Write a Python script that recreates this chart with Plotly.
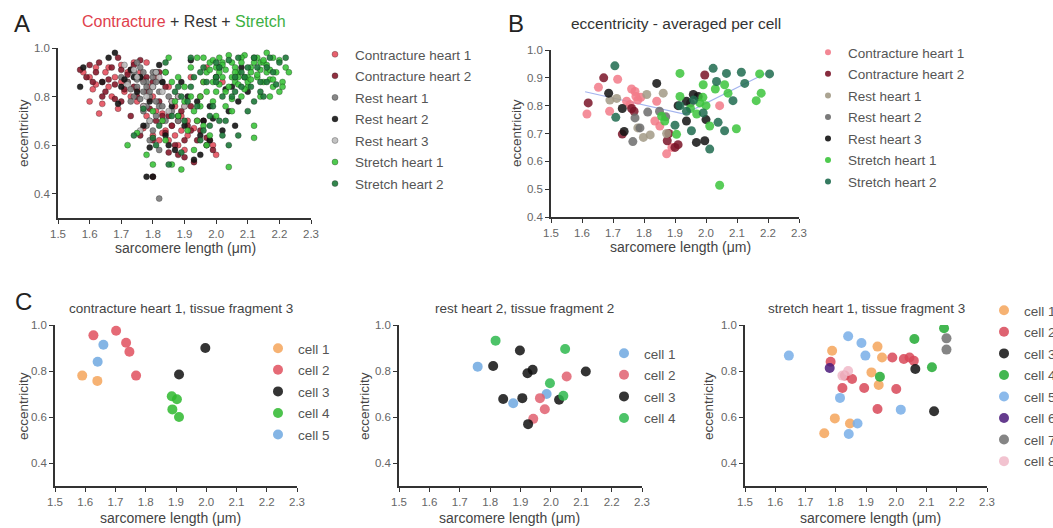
import plotly.graph_objects as go

W, H = 1053, 528
FONT = "Arial, Liberation Sans, sans-serif"

# ---------------- Panel A data (all measurements) ----------------
a_con1_x = [1.58,1.60,1.62,1.63,1.64,1.65,1.66,1.68,1.70,1.71,1.72,1.73,1.74,1.75,1.76,1.77,1.78,1.79,1.80,1.81,1.82,1.83,1.84,1.85,1.86,1.87,1.88,1.89,1.90,1.91,1.92,1.94,1.96,1.98,2.00,1.61,1.67,1.69,1.73,1.77,1.79,1.81,1.83,1.86,1.88,1.90,1.93,1.97,2.02,1.64,
            1.60,1.62,1.66,1.70,1.72,1.75,1.78,1.80,1.83,1.85,1.87,1.89,1.91,1.95,1.99]
a_con1_y = [0.90,0.78,0.92,0.73,0.77,0.90,0.84,0.88,0.93,0.82,0.86,0.80,0.94,0.78,0.90,0.87,0.72,0.84,0.64,0.88,0.62,0.70,0.66,0.84,0.68,0.76,0.60,0.72,0.76,0.64,0.88,0.70,0.86,0.62,0.56,0.83,0.80,0.75,0.91,0.67,0.79,0.74,0.65,0.78,0.70,0.58,0.67,0.92,0.86,0.86,
            0.88,0.85,0.92,0.86,0.90,0.83,0.94,0.80,0.73,0.62,0.64,0.66,0.70,0.80,0.60]
a_con2_x = [1.57,1.59,1.61,1.63,1.65,1.67,1.69,1.70,1.72,1.74,1.75,1.77,1.78,1.80,1.81,1.82,1.84,1.85,1.87,1.88,1.90,1.92,1.93,1.95,1.97,1.99,1.62,1.66,1.71,1.76,1.79,1.83,1.86,1.89,1.91,1.94,1.80,1.85,1.73,1.68,
            1.60,1.64,1.68,1.70,1.74,1.78,1.82,1.84,1.86,1.90,1.92,1.96,1.76,1.80,1.88]
a_con2_y = [0.91,0.88,0.86,0.94,0.82,0.92,0.96,0.78,0.89,0.84,0.80,0.76,0.82,0.86,0.70,0.78,0.65,0.72,0.60,0.80,0.55,0.76,0.53,0.66,0.63,0.58,0.90,0.87,0.83,0.95,0.75,0.72,0.68,0.74,0.68,0.62,0.47,0.57,0.72,0.79,
            0.93,0.80,0.85,0.91,0.93,0.88,0.90,0.84,0.78,0.62,0.66,0.70,0.64,0.62,0.56]
a_rest1_x = [1.72,1.74,1.75,1.76,1.77,1.78,1.79,1.80,1.81,1.82,1.76,1.78,1.80,1.74,1.77,1.79,1.83,1.85,1.73,1.81,1.84,1.78,1.75,1.82,1.80,1.86,1.70,1.88,1.77,1.79,1.82,1.82,
             1.73,1.75,1.77,1.79,1.81,1.83,1.76,1.78,1.80,1.84]
a_rest1_y = [0.86,0.90,0.84,0.88,0.82,0.86,0.80,0.84,0.78,0.82,0.92,0.76,0.88,0.80,0.74,0.70,0.86,0.80,0.78,0.72,0.90,0.68,0.94,0.76,0.66,0.74,0.88,0.70,0.86,0.62,0.58,0.38,
             0.83,0.87,0.90,0.82,0.86,0.76,0.79,0.84,0.90,0.70]
a_rest2_x = [1.57,1.58,1.64,1.68,1.69,1.73,1.75,1.77,1.79,1.80,1.82,1.84,1.86,1.88,1.90,1.92,1.94,1.96,1.98,2.00,2.02,2.04,2.06,2.08,1.83,1.87,1.91,1.95,1.99,2.03,1.78,1.79,1.76,1.93,1.98,2.05,1.71,1.85,
             1.66,1.70,1.74,1.81,1.89,1.97,2.01,2.07,2.10,1.95]
a_rest2_y = [0.84,0.92,0.86,0.98,0.77,0.91,0.82,0.68,0.59,0.47,0.93,0.64,0.76,0.72,0.68,0.95,0.78,0.70,0.62,0.88,0.66,0.74,0.68,0.92,0.86,0.58,0.80,0.64,0.71,0.83,0.47,0.78,0.88,0.54,0.76,0.84,0.87,0.60,
             0.96,0.84,0.88,0.90,0.86,0.60,0.92,0.78,0.82,0.56]
a_rest3_x = [1.72,1.75,1.78,1.80,1.83,1.86,1.74,1.77,1.82,1.79,1.85,1.88,1.76,1.81,1.90,1.71]
a_rest3_y = [0.85,0.88,0.80,0.84,0.82,0.78,0.91,0.76,0.88,0.70,0.74,0.80,0.66,0.90,0.76,0.93]
a_str1_x = [1.72,1.75,1.78,1.80,1.83,1.85,1.86,1.88,1.89,1.90,1.92,1.93,1.94,1.95,1.96,1.97,1.98,1.99,2.00,2.01,2.02,2.03,2.04,2.05,2.06,2.07,2.08,2.09,2.10,2.11,2.12,2.13,2.14,2.15,2.16,2.17,2.18,2.19,2.20,2.22,2.23,1.84,1.87,1.91,1.94,1.97,2.00,2.03,2.06,2.09,2.12,2.15,2.18,2.21,1.96,1.99,2.02,2.05,2.08,2.11,2.14,2.04,2.07,1.93,1.98,2.01,2.10,2.13,2.16,1.88,1.95,2.00,2.05,2.12,2.17,
            1.96,1.98,2.00,2.02,2.04,2.06,2.08,2.10,2.12,2.14,2.16,2.18,2.20,1.97,2.01,2.05,2.09,2.13,2.17,2.21,1.99,2.03,2.07,2.11,2.15,1.92,1.90,1.86,1.84,1.80]
a_str1_y = [0.60,0.65,0.56,0.52,0.70,0.96,0.52,0.88,0.50,0.84,0.92,0.74,0.96,0.80,0.68,0.90,0.94,0.86,0.72,0.96,0.88,0.82,0.51,0.94,0.86,0.90,0.80,0.97,0.84,0.92,0.63,0.88,0.94,0.86,0.98,0.80,0.96,0.90,0.82,0.92,0.90,0.62,0.78,0.66,0.70,0.60,0.82,0.76,0.92,0.88,0.68,0.94,0.84,0.86,0.86,0.78,0.94,0.74,0.96,0.90,0.80,0.84,0.88,0.58,0.64,0.90,0.86,0.96,0.90,0.72,0.76,0.92,0.88,0.94,0.87,
            0.96,0.91,0.88,0.93,0.97,0.90,0.94,0.88,0.96,0.91,0.93,0.87,0.95,0.82,0.85,0.79,0.83,0.89,0.91,0.84,0.95,0.91,0.85,0.87,0.95,0.80,0.78,0.86,0.90,0.74]
a_str2_x = [1.74,1.77,1.81,1.84,1.87,1.90,1.92,1.95,1.97,1.99,2.01,2.03,2.05,2.07,2.09,2.11,2.13,2.15,2.17,2.20,1.86,1.89,1.93,1.96,2.00,2.04,2.08,2.12,2.16,1.91,1.98,2.02,2.06,2.10,1.82,1.88,1.94,2.00,2.14,2.19,
            1.96,2.00,2.04,2.08,2.12,2.16,2.02,2.06,2.10,1.92,1.95,1.98,2.14,2.18,2.22,1.80,1.85,1.89,2.07,2.01]
a_str2_y = [0.64,0.75,0.60,0.94,0.82,0.70,0.96,0.62,0.86,0.76,0.92,0.70,0.80,0.96,0.88,0.84,0.92,0.80,0.96,0.94,0.72,0.57,0.88,0.66,0.94,0.60,0.90,0.78,0.86,0.78,0.72,0.64,0.82,0.92,0.68,0.84,0.76,0.88,0.82,0.85,
            0.92,0.86,0.95,0.84,0.96,0.92,0.80,0.88,0.74,0.84,0.90,0.68,0.86,0.90,0.96,0.63,0.52,0.80,0.64,0.70]

series_names = ["Contracture heart 1", "Contracture heart 2", "Rest heart 1", "Rest heart 2",
                "Rest heart 3", "Stretch heart 1", "Stretch heart 2"]

# ---------------- Panel B data (averaged per cell) ----------------
b_con1_x = [1.616,1.653,1.715,1.689,1.744,1.755,1.771,1.774,1.841,1.835,1.851,1.873,1.89,1.79,1.76,1.78,2.044]
b_con1_y = [0.77,0.866,0.895,0.78,0.816,0.804,0.851,0.833,0.816,0.745,0.727,0.627,0.65,0.83,0.86,0.82,0.80]
b_con2_x = [1.62,1.67,1.768,1.73,1.875,1.91,1.996,1.90,1.76,1.88]
b_con2_y = [0.81,0.90,0.78,0.698,0.674,0.66,0.91,0.65,0.79,0.70]
b_rest1_x = [1.712,1.798,1.809,1.862,1.82,1.873,1.78,1.69]
b_rest1_y = [0.826,0.686,0.84,0.845,0.695,0.70,0.72,0.82]
b_rest2_x = [1.764,1.787,1.771,1.812,1.85,1.95,1.87]
b_rest2_y = [0.671,0.72,0.756,0.777,0.78,0.81,0.76]
b_rest3_x = [1.686,1.736,1.841,1.937,1.959,1.975,2.0,1.937,1.969,1.996,1.91,1.73]
b_rest3_y = [0.845,0.707,0.88,0.816,0.84,0.833,0.75,0.745,0.668,0.674,0.80,0.79]
b_str1_x = [1.857,1.867,1.916,1.991,2.06,2.071,2.178,2.162,1.916,1.98,2.0,2.098,2.012,2.044,1.905,2.173,1.95,2.03,1.99,1.97]
b_str1_y = [0.762,0.745,0.916,0.875,0.875,0.845,0.845,0.818,0.833,0.81,0.80,0.717,0.727,0.514,0.697,0.914,0.79,0.86,0.83,0.77]
b_str2_x = [1.706,1.709,2.023,2.066,2.114,2.205,2.034,2.125,2.087,1.916,1.991,1.937,2.039,2.06,1.953,2.012,1.90,1.96]
b_str2_y = [0.943,0.758,0.934,0.916,0.92,0.914,0.887,0.88,0.818,0.80,0.774,0.78,0.74,0.71,0.71,0.644,0.73,0.82]
b_fit_x = [1.61, 1.93, 2.19]
b_fit_y = [0.85, 0.77, 0.915]

# ---------------- Panel C data (single tissue fragments) ----------------
c1_x = {"cell 1": [1.59,1.64], "cell 2": [1.627,1.702,1.735,1.746,1.768], "cell 3": [1.997,1.91],
        "cell 4": [1.886,1.903,1.888,1.91], "cell 5": [1.66,1.641]}
c1_y = {"cell 1": [0.78,0.757], "cell 2": [0.955,0.975,0.923,0.884,0.78], "cell 3": [0.90,0.785],
        "cell 4": [0.69,0.677,0.633,0.60], "cell 5": [0.914,0.84]}
c2_x = {"cell 1": [1.759,1.876,1.986], "cell 2": [1.964,1.98,1.942,2.052],
        "cell 3": [1.81,1.898,1.923,1.94,1.843,1.906,1.925,2.027,2.115],
        "cell 4": [1.818,2.047,1.997,2.041]}
c2_y = {"cell 1": [0.819,0.66,0.70], "cell 2": [0.682,0.634,0.592,0.776],
        "cell 3": [0.822,0.889,0.79,0.805,0.678,0.682,0.569,0.675,0.798],
        "cell 4": [0.932,0.896,0.747,0.692]}
c3_x = {"cell 1": [1.788,1.938,1.953,1.918,1.942,1.797,1.762,1.847],
        "cell 2": [1.783,1.83,1.822,1.854,1.894,1.987,2.025,2.044,2.058,2.0,1.938],
        "cell 3": [2.063,2.125], "cell 4": [2.06,2.158,2.118,1.946],
        "cell 5": [1.645,1.841,1.885,1.898,1.814,1.872,1.843,2.015],
        "cell 6": [1.78], "cell 7": [2.166,2.166], "cell 8": [1.841,1.822]}
c3_y = {"cell 1": [0.888,0.906,0.859,0.794,0.739,0.594,0.529,0.572],
        "cell 2": [0.84,0.78,0.726,0.765,0.726,0.859,0.852,0.859,0.845,0.722,0.635],
        "cell 3": [0.809,0.625], "cell 4": [0.939,0.986,0.816,0.775],
        "cell 5": [0.867,0.951,0.922,0.867,0.683,0.572,0.526,0.632],
        "cell 6": [0.813], "cell 7": [0.942,0.893], "cell 8": [0.80,0.78]}

x_ticks = [1.5,1.6,1.7,1.8,1.9,2.0,2.1,2.2,2.3]

# ---------------- styling ----------------
colA = ["#e5505f", "#861a2c", "#7b7b7b", "#151515", "#bdbdbd", "#3cc43c", "#1e7a3a"]
colB = ["#f27a88", "#7a1428", "#a29a86", "#6c6c6c", "#121212", "#3cc43c", "#1f6b4f"]
cell_col = {"c1": ["#f5a55a", "#e0505e", "#111111", "#2eb82e", "#6ea8e0"],
            "c2": ["#6ea8e0", "#e06070", "#111111", "#2eb84e"],
            "c3": ["#f5a55a", "#d84858", "#111111", "#22aa33", "#78aee8", "#4a1a7a", "#707070", "#f0b8c8"]}

def fx(px):
    return px / W

def fy(py):
    return 1 - py / H

fig = go.Figure()

a_data = [(a_con1_x, a_con1_y), (a_con2_x, a_con2_y), (a_rest1_x, a_rest1_y), (a_rest2_x, a_rest2_y),
          (a_rest3_x, a_rest3_y), (a_str1_x, a_str1_y), (a_str2_x, a_str2_y)]
for i, (name, (xs, ys), c) in enumerate(zip(series_names, a_data, colA)):
    fig.add_trace(go.Scatter(x=xs, y=ys, mode="markers", name=name, xaxis="x", yaxis="y",
                             legend="legend", legendgroup="a%d" % i,
                             marker=dict(size=6, color=c, opacity=0.9,
                                         line=dict(width=0.6, color="rgba(0,0,0,0.5)"))))

b_data = [(b_con1_x, b_con1_y), (b_con2_x, b_con2_y), (b_rest1_x, b_rest1_y), (b_rest2_x, b_rest2_y),
          (b_rest3_x, b_rest3_y), (b_str1_x, b_str1_y), (b_str2_x, b_str2_y)]
fig.add_trace(go.Scatter(x=b_fit_x, y=b_fit_y, mode="lines", showlegend=False, xaxis="x2", yaxis="y2",
                         line=dict(color="#a4b4ee", width=1.2), hoverinfo="skip"))
for i, (name, (xs, ys), c) in enumerate(zip(series_names, b_data, colB)):
    grp = "b%d" % i
    fig.add_trace(go.Scatter(x=xs, y=ys, mode="markers", name=name, xaxis="x2", yaxis="y2",
                             legend="legend2", legendgroup=grp, showlegend=False,
                             marker=dict(size=9, color=c, opacity=0.85, line=dict(width=0))))
    # legend entry (smaller symbol, as in the reference legend)
    fig.add_trace(go.Scatter(x=[None], y=[None], mode="markers", name=name, xaxis="x2", yaxis="y2",
                             legend="legend2", legendgroup=grp,
                             marker=dict(size=6, color=c, opacity=0.9)))

for key, xd, yd, ax, lg in [("c1", c1_x, c1_y, "3", "legend3"), ("c2", c2_x, c2_y, "4", "legend4"),
                            ("c3", c3_x, c3_y, "5", "legend5")]:
    for (cell, xs), c in zip(xd.items(), cell_col[key]):
        fig.add_trace(go.Scatter(x=xs, y=yd[cell], mode="markers", name=cell, xaxis="x" + ax,
                                 yaxis="y" + ax, legend=lg, legendgroup=key + cell,
                                 marker=dict(size=10, color=c, opacity=0.85, line=dict(width=0))))

TICKFONT = dict(size=11.5, color="#666", family=FONT)

def xax(px0, px1, anchor):
    return dict(domain=[fx(px0), fx(px1)], range=[1.5, 2.3], anchor=anchor, tickvals=x_ticks,
                tickformat=".1f", showline=True, linecolor="#333", linewidth=1.5, ticks="outside",
                ticklen=4, tickwidth=1.2, tickcolor="#333", showgrid=False, zeroline=False,
                tickfont=TICKFONT)

def yax(py0, py1, rng, dtick, anchor):
    return dict(domain=[fy(py0), fy(py1)], range=rng, anchor=anchor, dtick=dtick, tick0=0.4,
                tickformat=".1f", showline=True, linecolor="#333", linewidth=1.5, ticks="outside",
                ticklen=4, tickwidth=1.2, tickcolor="#333", showgrid=False, zeroline=False,
                tickfont=TICKFONT)

def leg(px, py):
    return dict(x=fx(px), y=fy(py), xanchor="left", yanchor="top", bgcolor="rgba(0,0,0,0)",
                font=dict(size=13.5, color="#555", family=FONT), itemsizing="trace",
                traceorder="grouped", tracegroupgap=1, itemclick=False)

ann = []
def txt(px, py, s, size, color="#333", angle=0):
    ann.append(dict(x=fx(px), y=fy(py), xref="paper", yref="paper", text=s, showarrow=False,
                    textangle=angle, xanchor="center", yanchor="middle",
                    font=dict(size=size, color=color, family=FONT)))

txt(22, 23, "A", 24, "#222")
txt(184, 22, "<span style='color:#e0404c'>Contracture</span> + Rest + "
             "<span style='color:#3cb043'>Stretch</span>", 16, "#333")
txt(516, 23, "B", 24, "#222")
txt(676, 24, "eccentricity - averaged per cell", 15.5, "#333")
txt(23, 301, "C", 24, "#222")
txt(181, 308, "contracture heart 1, tissue fragment 3", 13.5, "#444")
txt(524, 308, "rest heart 2, tissue fragment 2", 13.5, "#444")
txt(866, 308, "stretch heart 1, tissue fragment 3", 13.5, "#444")

xlabel = "sarcomere length (\u03bcm)"
for cx, cy in [(185, 248), (680, 247), (170, 518), (509, 518), (870, 518)]:
    txt(cx, cy, xlabel, 14, "#444")
for cx, cy in [(23, 133), (516, 133), (23, 406), (364, 406), (708, 406)]:
    txt(cx, cy, "eccentricity", 13.5, "#444", angle=-90)

fig.update_layout(
    width=W, height=H, margin=dict(l=0, r=0, t=0, b=0, autoexpand=False),
    paper_bgcolor="white", plot_bgcolor="white", font=dict(family=FONT),
    xaxis=xax(58, 311, "y"), yaxis=yax(218, 48, [0.3, 1.0], 0.2, "x"),
    xaxis2=xax(551, 799, "y2"), yaxis2=yax(217, 50, [0.4, 1.0], 0.1, "x2"),
    xaxis3=xax(55, 297, "y3"), yaxis3=yax(486, 325, [0.3, 1.0], 0.2, "x3"),
    xaxis4=xax(399, 642, "y4"), yaxis4=yax(486, 325, [0.3, 1.0], 0.2, "x4"),
    xaxis5=xax(745, 987, "y5"), yaxis5=yax(486, 325, [0.3, 1.0], 0.2, "x5"),
    legend=leg(315, 39), legend2=leg(808, 37), legend3=leg(258, 333),
    legend4=leg(604, 338), legend5=leg(984, 295),
    annotations=ann, showlegend=True,
)

fig.write_html(
    "out.html",
    config={"displayModeBar": False},
    post_script="document.body.style.margin='0';document.body.style.padding='0';"
                "document.documentElement.style.overflow='hidden';",
)
